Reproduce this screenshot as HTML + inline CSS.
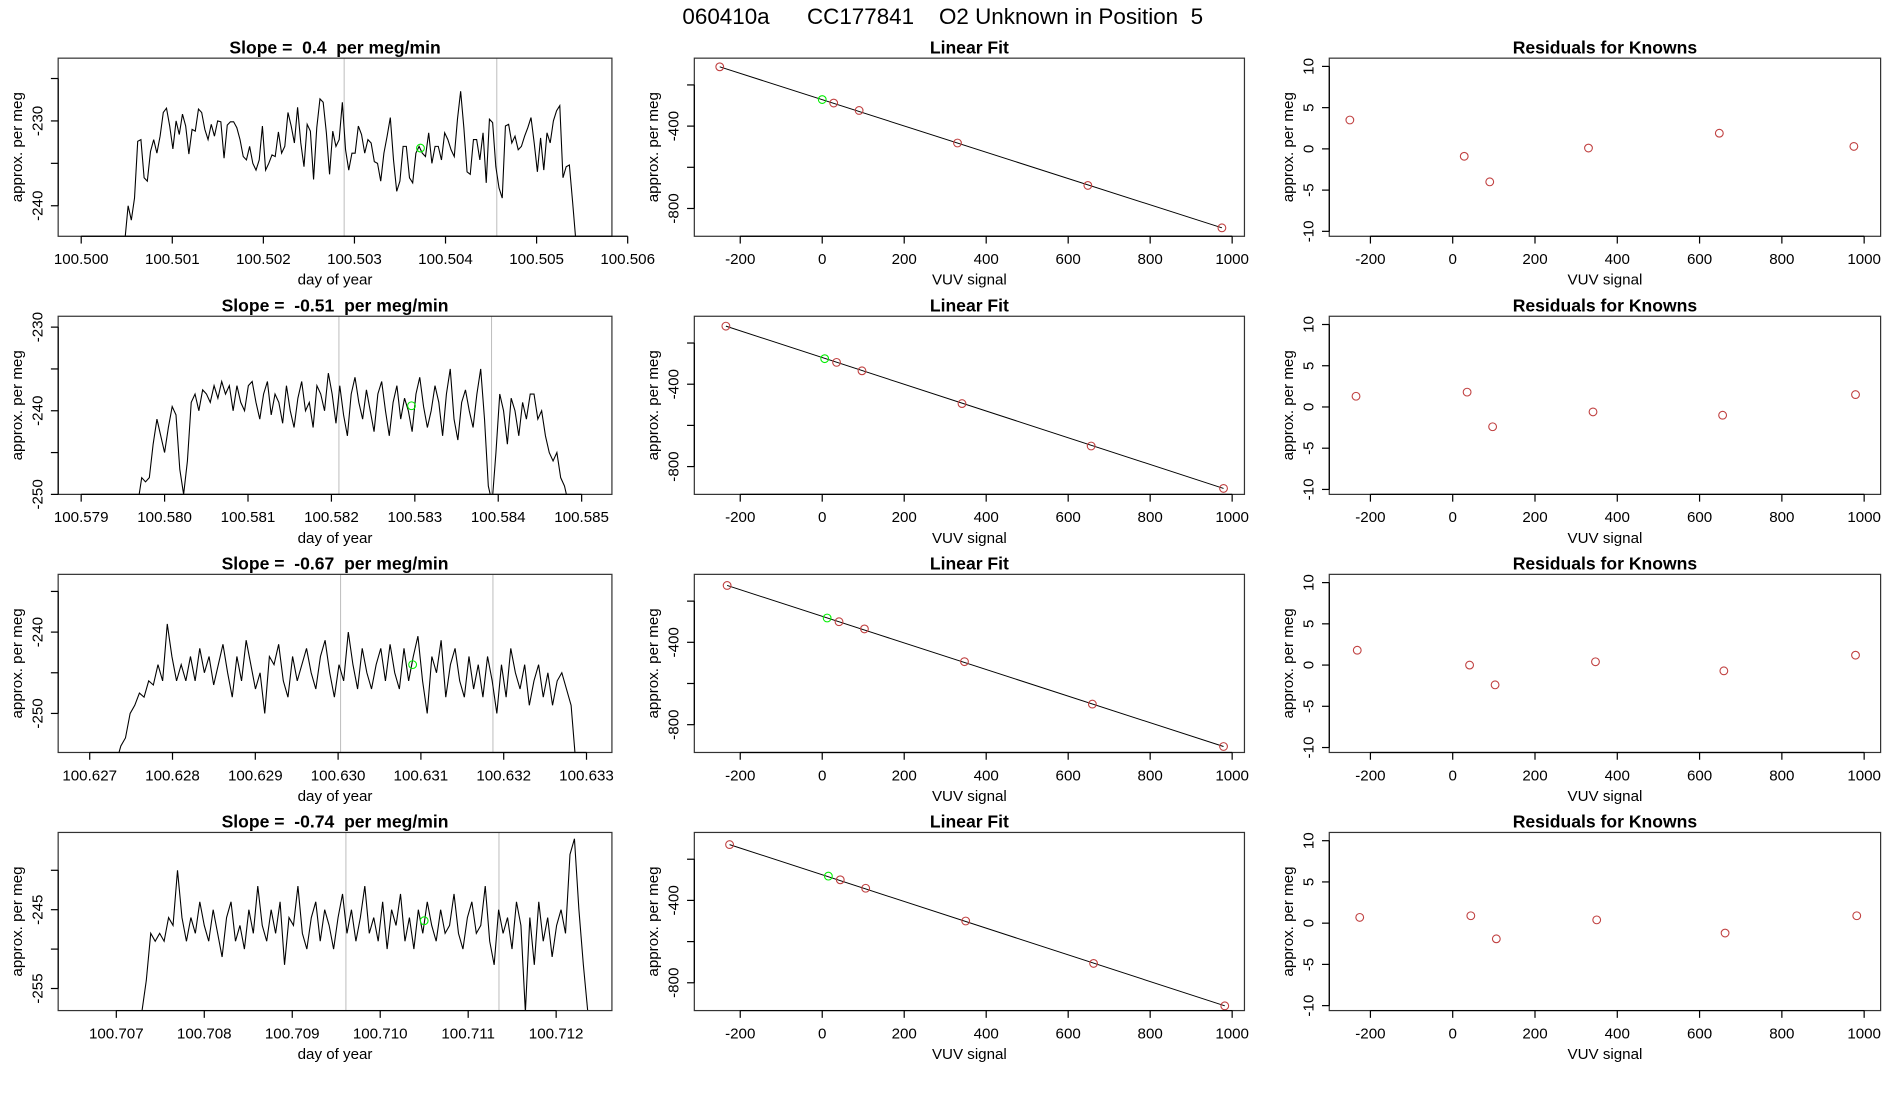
<!DOCTYPE html>
<html><head><meta charset="utf-8"><title>060410a CC177841 O2 Unknown in Position 5</title>
<style>
html,body{margin:0;padding:0;background:#fff;}
svg{display:block;font-family:"Liberation Sans",Arial,sans-serif;}
svg text{white-space:pre;}
</style></head>
<body>
<svg id="fig" width="1900" height="1100" viewBox="0 0 1568 907.8" preserveAspectRatio="none" xmlns="http://www.w3.org/2000/svg">
<text x="778" y="20" font-size="18.5" text-anchor="middle" xml:space="preserve">060410a      CC177841    O2 Unknown in Position  5</text>
</svg>
<script>
// ---------- DATA ----------
const slopeTitles = ["Slope =  0.4  per meg/min","Slope =  -0.51  per meg/min","Slope =  -0.67  per meg/min","Slope =  -0.74  per meg/min"];
const tsStart = [100.50048, 100.57968, 100.62732, 100.70729];
const tsEnd = [100.50543, 100.58484, 100.63287, 100.71236];
const tsMarkA = [100.502887, 100.58209, 100.63003, 100.70961];
const tsMarkB = [100.504563, 100.58392, 100.63187, 100.71135];
const tsGreenT = [100.503725, 100.58296, 100.63090, 100.71050];
const tsGreenV = [-233.2, -239.4, -244.0, -246.4];
const ts1 = [-244,-240.0,-241.7,-239.1,-232.4,-232.2,-236.7,-237.1,-233.6,-232.2,-233.8,-231.8,-229.0,-228.5,-230.6,-233.3,-230,-231.6,-229.2,-230.6,-233.9,-231.0,-231.2,-228.6,-229.0,-231.0,-232.2,-230.4,-231.8,-230.0,-230.1,-234.4,-230.5,-230.1,-230.1,-230.8,-232.2,-234.2,-234.6,-233.0,-235.0,-235.8,-234.6,-230.6,-235.8,-235.0,-234.0,-234.2,-231.3,-233.8,-233.0,-229.0,-230.6,-232.6,-228.4,-232.6,-235.4,-230.4,-231.2,-236.9,-230.8,-227.4,-227.8,-231.4,-236.3,-231.2,-233.0,-232.2,-227.8,-233.4,-235.8,-233.8,-233.8,-230.6,-231.6,-233.8,-232.2,-232.6,-234.8,-235.0,-237.1,-233.8,-231.8,-229.6,-234.6,-238.3,-237.1,-233.0,-233.0,-236.7,-237.3,-233.8,-233.0,-233.8,-234.2,-231.4,-235.0,-233.0,-233.0,-234.6,-231.4,-232.2,-233.4,-234.2,-229.8,-226.5,-230.8,-236.0,-236.3,-232.2,-232.2,-234.6,-231.4,-237.3,-229.8,-230.2,-235.4,-237.9,-239.1,-230.6,-230.4,-232.6,-231.8,-233.4,-233.0,-231.8,-230.8,-229.6,-232.6,-236.0,-232.0,-235.8,-231.4,-232.6,-230.0,-228.8,-228.2,-236.7,-235.4,-235.2,-239.5,-244];
const ts2 = [-251,-248,-248.5,-248,-244,-241,-243,-245,-242,-239.5,-240.5,-247,-250,-246,-239,-238,-240,-237.5,-238,-239,-237,-238.5,-236.5,-238,-237,-240,-237,-239,-240,-237,-236.5,-239,-241,-238,-236.5,-240.5,-238,-239,-241.5,-237,-240,-242,-238.5,-236.5,-240,-239,-242,-237,-238,-240,-235.5,-238,-241.5,-237,-240.5,-243,-238,-236,-239,-241,-237.5,-240,-242.5,-238,-236.5,-240,-243,-239,-237,-241,-238.5,-240,-242.5,-238,-236,-239.5,-242,-240,-237,-239,-243,-238,-235,-241,-243.5,-239,-237.5,-240,-242,-238,-235,-241,-249,-251,-245,-238,-240,-244,-238.5,-240,-243,-239,-241,-238,-238,-241,-240,-243,-245,-246,-245,-248,-249,-251];
const ts3 = [-256,-254,-253,-250,-249,-247.5,-248,-246,-246.5,-244,-246,-239,-243,-246,-244,-246,-243,-246,-242,-245,-243,-246.5,-244,-241.5,-245,-248,-243,-246,-241,-244,-247,-245,-250,-243,-244,-241.5,-246,-248,-243,-246,-244,-242,-245,-247,-243,-241,-245,-248,-244,-246,-240,-244,-247,-242,-245,-247,-244,-242,-246,-241.5,-245,-247,-242,-246,-243,-240.5,-246,-250,-243,-245,-241,-248,-244,-242,-246,-248,-243,-247,-244,-248,-243,-246,-250,-244,-248,-242,-245,-247,-244,-249,-246,-244,-248,-245,-249,-246,-245,-247,-249,-256];
const ts4 = [-258,-254,-248,-249,-248,-249,-246,-247,-240,-246,-249,-246,-248,-244,-247,-249,-245,-248,-251,-246,-244,-249,-247,-250,-245,-248,-242,-247,-249,-245,-248,-244,-252,-246,-247,-242,-248,-250,-246,-244,-249,-245,-247,-250,-246,-243,-248,-245,-249,-246,-242,-248,-246,-249,-244,-250,-245,-247,-243,-249,-246,-250,-245,-248,-244,-247,-249,-245,-248,-247,-243,-248,-250,-246,-244,-248,-247,-242,-249,-252,-245,-248,-246,-250,-244,-247,-258,-246,-252,-244,-249,-246,-251,-247,-245,-248,-238,-236,-245,-252,-258];
const tsSeries = [ts1, ts2, ts3, ts4];
const tsXTicks = [[100.500,100.501,100.502,100.503,100.504,100.505,100.506],[100.579,100.580,100.581,100.582,100.583,100.584,100.585],[100.627,100.628,100.629,100.630,100.631,100.632,100.633],[100.707,100.708,100.709,100.710,100.711,100.712]];
const tsXLabels = [["100.500","100.501","100.502","100.503","100.504","100.505","100.506"],["100.579","100.580","100.581","100.582","100.583","100.584","100.585"],["100.627","100.628","100.629","100.630","100.631","100.632","100.633"],["100.707","100.708","100.709","100.710","100.711","100.712"]];
const tsYTicks = [[-225,-230,-235,-240],[-230,-235,-240,-245,-250],[-235,-240,-245,-250],[-240,-245,-250,-255]];
const tsYLabels = [["","-230","","-240"],["-230","","-240","","-250"],["","-240","","-250"],["","-245","","-255"]];
const tsXDomain = [[100.499747,100.505827],[100.578724,100.585363],[100.626619,100.633307],[100.706339,100.712634]];
const tsYDomain = [[-243.6,-222.6],[-250,-228.7],[-254.8,-232.9],[-257.8,-235.2]];

// linear fit (VUV signal vs per meg)
const fitX = [[-250,28,90,330,648,975],[-235,35,97,341,656,979],[-232,41,103,347,659,979],[-226,44,106,350,662,982]];
const fitY = [[-112,-288,-324,-482,-688,-894],[-118,-294,-335,-494,-700,-906],[-124,-300,-335,-494,-700,-906],[-129,-300,-341,-500,-706,-912]];
const fitGreenX = [0,6,12,15];
const fitGreenY = [-271,-276,-282,-282];
const fitXTicks = [-200,0,200,400,600,800,1000];
const fitYTicks = [-200,-400,-600,-800];
const fitYLabels = ["","-400","","-800"];

// residuals
const resX = fitX;
const resY = [[3.5,-0.9,-4.0,0.1,1.9,0.3],[1.3,1.8,-2.4,-0.6,-1.0,1.5],[1.8,0.0,-2.4,0.4,-0.7,1.2],[0.7,0.9,-1.9,0.4,-1.2,0.9]];
const resYTicks = [10,5,0,-5,-10];

// ---------- DRAW ----------
const NS = "http://www.w3.org/2000/svg";
const svg = document.getElementById('fig');
function mk(tag, attrs, parent){
  const e = document.createElementNS(NS, tag);
  for (const k in attrs) e.setAttribute(k, attrs[k]);
  (parent||svg).appendChild(e);
  return e;
}
function scale(d0,d1,r0,r1){ return v => r0 + (v-d0)/(d1-d0)*(r1-r0); }

const colX = [[48,505],[573,1027],[1097,1552]];
const rowTop = [48,261,474,687];
const boxH = 147;

function axes(g, x0, x1, yT, yB, xs, ys, xt, xl, yt, yl, xlab, title){
  const t = mk('text',{x:(x0+x1)/2,y:yT-4,'font-size':14.5,'font-weight':'bold','text-anchor':'middle'},g);
  
  
  t.textContent = title;
  const b = mk('rect',{x:x0,y:yT,width:x1-x0,height:yB-yT,fill:'none',stroke:'#333','stroke-width':1},g);
  
  
  const xa = mk('g',{},g);
  
  
  mk('line',{x1:xs(xt[0]),x2:xs(xt[xt.length-1]),y1:yB,y2:yB,stroke:'#000','stroke-width':1},xa);
  xt.forEach((v,i)=>{
    const px = xs(v);
    mk('line',{x1:px,x2:px,y1:yB,y2:yB+6,stroke:'#000'},xa);
    const tl = mk('text',{x:px,y:yB+23,'font-size':12.5,'text-anchor':'middle'},xa);
    
    
    tl.textContent = xl[i];
  });
  const xn = mk('text',{x:(x0+x1)/2,y:yB+40,'font-size':12.5,'text-anchor':'middle'},g);
  
  
  xn.textContent = xlab;
  const ya = mk('g',{},g);
  
  
  mk('line',{x1:x0,x2:x0,y1:ys(yt[0]),y2:ys(yt[yt.length-1]),stroke:'#000'},ya);
  yt.forEach((v,i)=>{
    const py = ys(v);
    mk('line',{x1:x0-6,x2:x0,y1:py,y2:py,stroke:'#000'},ya);
    if (yl[i]) {
      const tl = mk('text',{x:0,y:0,'font-size':12.5,'text-anchor':'middle',transform:`translate(${x0-13},${py}) rotate(-90)`},ya);
      
      
      tl.textContent = yl[i];
    }
  });
  const yn = mk('text',{x:0,y:0,'font-size':12.5,'text-anchor':'middle',transform:`translate(${x0-30},${(yT+yB)/2}) rotate(-90)`},g);
  
  
  yn.textContent = 'approx. per meg';
}

let cid = 0;
for (let r=0;r<4;r++){
  const yT = rowTop[r], yB = yT+boxH;
  {
    const [x0,x1] = colX[0];
    const g = mk('g',{});
    
    
    const xs = scale(tsXDomain[r][0],tsXDomain[r][1],x0,x1);
    const ys = scale(tsYDomain[r][0],tsYDomain[r][1],yB,yT);
    const clip = mk('clipPath',{id:'c'+(cid)},g);
    mk('rect',{x:x0,y:yT,width:x1-x0,height:boxH},clip);
    [tsMarkA[r],tsMarkB[r]].forEach(m=>{
      const l = mk('line',{x1:xs(m),x2:xs(m),y1:yT,y2:yB,stroke:'#bbb','stroke-width':0.8},g);
      
      
    });
    const s = tsSeries[r], n = s.length;
    const pts = s.map((v,i)=>{
      const t = tsStart[r] + (tsEnd[r]-tsStart[r])*i/(n-1);
      return xs(t).toFixed(2)+','+ys(v).toFixed(2);
    }).join(' ');
    const pl = mk('polyline',{points:pts,fill:'none',stroke:'#000','stroke-width':0.9,'clip-path':`url(#c${cid})`},g);
    
    
    cid++;
    const gc = mk('circle',{cx:xs(tsGreenT[r]),cy:ys(tsGreenV[r]),r:3.2,fill:'none',stroke:'#00ee00','stroke-width':0.9},g);
    
    
    axes(g,x0,x1,yT,yB,xs,ys,tsXTicks[r],tsXLabels[r],tsYTicks[r],tsYLabels[r],'day of year',slopeTitles[r]);
  }
  {
    const [x0,x1] = colX[1];
    const g = mk('g',{});
    
    
    const xs = scale(-312,1030,x0,x1);
    const ys = scale(-935,-70,yB,yT);
    const X = fitX[r], Y = fitY[r];
    const ln = mk('line',{x1:xs(X[0]),y1:ys(Y[0]),x2:xs(X[X.length-1]),y2:ys(Y[Y.length-1]),stroke:'#000','stroke-width':0.8},g);
    
    
    X.forEach((v,i)=>{
      const c = mk('circle',{cx:xs(v),cy:ys(Y[i]),r:3.2,fill:'none',stroke:'#c04040','stroke-width':0.9},g);
      
      
    });
    const gc = mk('circle',{cx:xs(fitGreenX[r]),cy:ys(fitGreenY[r]),r:3.2,fill:'none',stroke:'#00ee00','stroke-width':0.9},g);
    
    
    axes(g,x0,x1,yT,yB,xs,ys,fitXTicks,fitXTicks.map(String),fitYTicks,fitYLabels,'VUV signal','Linear Fit');
  }
  {
    const [x0,x1] = colX[2];
    const g = mk('g',{});
    
    
    const xs = scale(-300,1040,x0,x1);
    const ys = scale(-10.6,11,yB,yT);
    resX[r].forEach((v,i)=>{
      const c = mk('circle',{cx:xs(v),cy:ys(resY[r][i]),r:3.2,fill:'none',stroke:'#c04040','stroke-width':0.9},g);
      
      
    });
    axes(g,x0,x1,yT,yB,xs,ys,fitXTicks,fitXTicks.map(String),resYTicks,resYTicks.map(String),'VUV signal','Residuals for Knowns');
  }
}
</script>
</body></html>
